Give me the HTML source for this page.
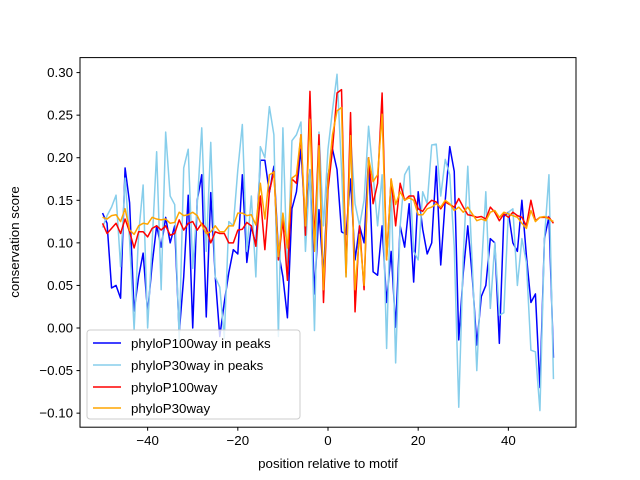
<!DOCTYPE html>
<html><head><meta charset="utf-8"><style>
body{margin:0;background:#fff}
svg{display:block;font-family:"Liberation Sans","DejaVu Sans",sans-serif}
</style></head><body>
<svg id="chart" width="640" height="480" viewBox="0 0 640 480" xmlns="http://www.w3.org/2000/svg">
<rect x="0" y="0" width="640" height="480" fill="#fff"/>
<g id="plot"></g>
<rect x="80" y="57.6" width="496" height="369.6" fill="none" stroke="#000" stroke-width="1"/>
<g id="ticks"></g>
<text x="328" y="468" font-size="13.3" text-anchor="middle">position relative to motif</text>
<text transform="translate(19,242) rotate(-90)" font-size="13.3" text-anchor="middle">conservation score</text>
<g id="legend">
<rect x="87" y="330" width="213" height="89" rx="3" fill="#fff" fill-opacity="0.8" stroke="#ccc"/>
<line x1="93" y1="343" x2="121" y2="343" stroke="#0000ff" stroke-width="1.5"/>
<text x="131" y="348" font-size="13.3">phyloP100way in peaks</text>
<line x1="93" y1="365" x2="121" y2="365" stroke="#87ceeb" stroke-width="1.5"/>
<text x="131" y="370" font-size="13.3">phyloP30way in peaks</text>
<line x1="93" y1="387" x2="121" y2="387" stroke="#ff0000" stroke-width="1.5"/>
<text x="131" y="392" font-size="13.3">phyloP100way</text>
<line x1="93" y1="408" x2="121" y2="408" stroke="#ffa500" stroke-width="1.5"/>
<text x="131" y="413" font-size="13.3">phyloP30way</text>
</g>
</svg>
<script>
const xTicks = [-40, -20, 0, 20, 40];
const yTicks = [-0.10, -0.05, 0.00, 0.05, 0.10, 0.15, 0.20, 0.25, 0.30];
const positionStart = -50;
const peaks100 = [0.135,0.123,0.047,0.05,0.035,0.188,0.147,0.02,0.06,0.088,
0.018,0.075,0.12,0.095,0.13,0.10,0.12,-0.006,0.06,0.156,
0.0,0.15,0.18,0.013,0.159,0.06,-0.01,0.03,0.065,0.092,
0.087,0.18,0.077,0.12,0.097,0.197,0.197,0.159,0.19,0.09,
0.06,0.012,0.14,0.16,0.21,0.12,0.186,0.04,0.139,0.06,
0.178,0.21,0.186,0.113,0.11,0.175,0.08,0.12,0.10,0.20,
0.066,0.062,0.12,0.03,0.09,0.001,0.12,0.095,0.146,0.054,
0.16,0.116,0.087,0.10,0.19,0.074,0.15,0.213,0.184,-0.014,
0.065,0.12,0.06,-0.02,0.037,0.05,0.105,0.10,-0.018,0.131,
0.136,0.10,0.09,0.15,0.085,0.03,0.04,-0.07,0.105,0.131,-0.035];
const peaks30 = [0.118,0.132,0.142,0.156,0.072,0.176,0.103,-0.002,0.11,0.168,
0.0,0.10,0.207,0.045,0.23,0.155,0.145,-0.014,0.188,0.21,
0.07,0.145,0.235,0.09,0.218,0.06,0.048,-0.012,0.125,0.12,
0.186,0.239,0.09,0.155,0.06,0.213,0.2,0.26,0.227,-0.01,
0.235,0.06,0.22,0.227,0.242,0.09,0.186,-0.003,0.23,0.12,
0.21,0.256,0.298,0.186,0.06,0.226,0.146,0.12,0.15,0.237,
0.18,0.12,0.18,-0.024,0.172,-0.041,0.12,0.18,0.19,0.09,
0.08,0.16,0.146,0.215,0.216,0.155,0.198,0.18,0.095,-0.093,
0.085,0.19,0.074,-0.05,0.066,0.16,0.023,0.10,0.015,0.018,
0.136,0.14,0.05,0.105,0.077,-0.026,-0.028,-0.097,0.105,0.18,-0.06];
const all100 = [0.123,0.111,0.117,0.123,0.111,0.128,0.113,0.094,0.113,0.113,
0.107,0.117,0.12,0.115,0.12,0.109,0.111,0.127,0.115,0.123,
0.125,0.115,0.123,0.117,0.10,0.113,0.111,0.111,0.10,0.10,
0.115,0.116,0.124,0.12,0.096,0.155,0.092,0.16,0.184,0.08,
0.127,0.056,0.175,0.17,0.227,0.109,0.278,0.10,0.227,0.03,
0.162,0.21,0.276,0.28,0.065,0.253,0.019,0.12,0.045,0.2,
0.146,0.17,0.276,0.08,0.175,0.12,0.17,0.15,0.155,0.155,
0.14,0.137,0.145,0.15,0.148,0.14,0.148,0.145,0.142,0.152,
0.142,0.133,0.132,0.13,0.131,0.128,0.142,0.136,0.126,0.134,
0.13,0.136,0.132,0.13,0.12,0.15,0.126,0.13,0.13,0.13,0.123];
const all30 = [0.13,0.128,0.132,0.133,0.125,0.14,0.115,0.11,0.12,0.123,
0.122,0.13,0.128,0.127,0.128,0.123,0.124,0.136,0.132,0.133,
0.136,0.132,0.121,0.111,0.113,0.12,0.113,0.113,0.12,0.12,
0.135,0.135,0.132,0.133,0.121,0.17,0.128,0.18,0.183,0.084,
0.135,0.094,0.176,0.18,0.227,0.12,0.245,0.09,0.214,0.045,
0.174,0.227,0.255,0.259,0.06,0.226,0.045,0.11,0.05,0.2,
0.172,0.18,0.251,0.08,0.175,0.145,0.16,0.15,0.153,0.15,
0.133,0.133,0.14,0.142,0.146,0.142,0.15,0.146,0.138,0.142,
0.136,0.142,0.134,0.126,0.128,0.126,0.136,0.138,0.13,0.136,
0.134,0.132,0.13,0.123,0.117,0.138,0.125,0.13,0.131,0.128,0.125];

const NS = 'http://www.w3.org/2000/svg';
const L = 80, R = 576, T = 57.6, B = 427.2;
const xMin = -55, xMax = 55, yMin = -0.1165, yMax = 0.3176;
function sx(v){ return L + (v - xMin) / (xMax - xMin) * (R - L); }
function sy(v){ return B - (v - yMin) / (yMax - yMin) * (B - T); }
function fmt(v){ const s = Math.abs(v).toFixed(2); return (v < -1e-9 ? '\u2212' : '') + s; }

const plot = document.getElementById('plot');
const ticks = document.getElementById('ticks');

function drawSeries(vals, color, name){
  const pts = vals.map((v, i) => sx(positionStart + i).toFixed(2) + ',' + sy(v).toFixed(2)).join(' ');
  const pl = document.createElementNS(NS, 'polyline');
  pl.setAttribute('points', pts);
  pl.setAttribute('fill', 'none');
  pl.setAttribute('stroke', color);
  pl.setAttribute('stroke-width', '1.5');
  pl.setAttribute('stroke-linejoin', 'round');
  
  
  plot.appendChild(pl);
}
drawSeries(peaks100, '#0000ff', 'line-phylop100-peaks');
drawSeries(peaks30, '#87ceeb', 'line-phylop30-peaks');
drawSeries(all100, '#ff0000', 'line-phylop100');
drawSeries(all30, '#ffa500', 'line-phylop30');

xTicks.forEach(t => {
  const x = sx(t);
  const ln = document.createElementNS(NS, 'line');
  ln.setAttribute('x1', x); ln.setAttribute('x2', x);
  ln.setAttribute('y1', B); ln.setAttribute('y2', B + 3.5);
  ln.setAttribute('stroke', '#000');
  
  
  ticks.appendChild(ln);
  const tx = document.createElementNS(NS, 'text');
  tx.setAttribute('x', x); tx.setAttribute('y', B + 18);
  tx.setAttribute('font-size', '13.3');
  tx.setAttribute('text-anchor', 'middle');
  tx.textContent = (t < 0 ? '\u2212' : '') + Math.abs(t);
  
  
  ticks.appendChild(tx);
});
yTicks.forEach(t => {
  const y = sy(t);
  const ln = document.createElementNS(NS, 'line');
  ln.setAttribute('x1', L - 3.5); ln.setAttribute('x2', L);
  ln.setAttribute('y1', y); ln.setAttribute('y2', y);
  ln.setAttribute('stroke', '#000');
  
  
  ticks.appendChild(ln);
  const tx = document.createElementNS(NS, 'text');
  tx.setAttribute('x', L - 7); tx.setAttribute('y', y + 4.5);
  tx.setAttribute('font-size', '13.3');
  tx.setAttribute('text-anchor', 'end');
  tx.textContent = fmt(t);
  
  
  ticks.appendChild(tx);
});
</script>
</body></html>
